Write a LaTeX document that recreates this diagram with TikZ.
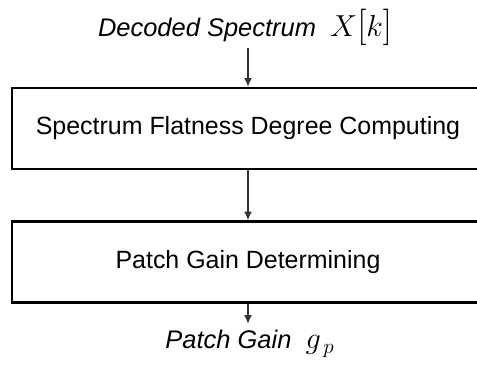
\documentclass[tikz,border=0pt]{standalone}
\usepackage{amsmath}
\usepackage{fontspec}
\setmainfont{Liberation Sans}
\usepackage{tikz}
\usetikzlibrary{positioning,arrows.meta}

\begin{document}
\begin{tikzpicture}[x=0.02cm, y=-0.02cm,
  block/.style={draw=black, line width=1.2pt, minimum width=9.44cm, minimum height=1.62cm, font=\fontsize{14.2}{16}\selectfont},
  flow/.style={-{Latex[length=5pt,width=4.5pt]}, line width=1.1pt, draw=black!80},
  io/.style={font=\fontsize{14.5}{16}\selectfont\itshape, inner sep=1pt}]
\useasboundingbox (0,0) rectangle (477,376);
\node[io] (spec) at (245,27) {Decoded Spectrum \ {\fontsize{17}{18}\selectfont$X${\fontsize{22}{22}\selectfont$[$}$k${\fontsize{22}{22}\selectfont$]$}}};
\node[block] (sfd) at (248,128.5) {Spectrum Flatness Degree Computing};
\node[block] (pgd) at (248,262) {Patch Gain Determining};
\node[io] (gain) at (250,344) {Patch Gain \ {\fontsize{18}{18}\selectfont$g_{\,p}$}};
\coordinate (top) at (248,48);
\coordinate (bot) at (248,324);
\draw[flow] (top) -- (sfd.north);
\draw[flow] (sfd.south) -- (pgd.north);
\draw[flow] (pgd.south) -- (bot);
\end{tikzpicture}
\end{document}
